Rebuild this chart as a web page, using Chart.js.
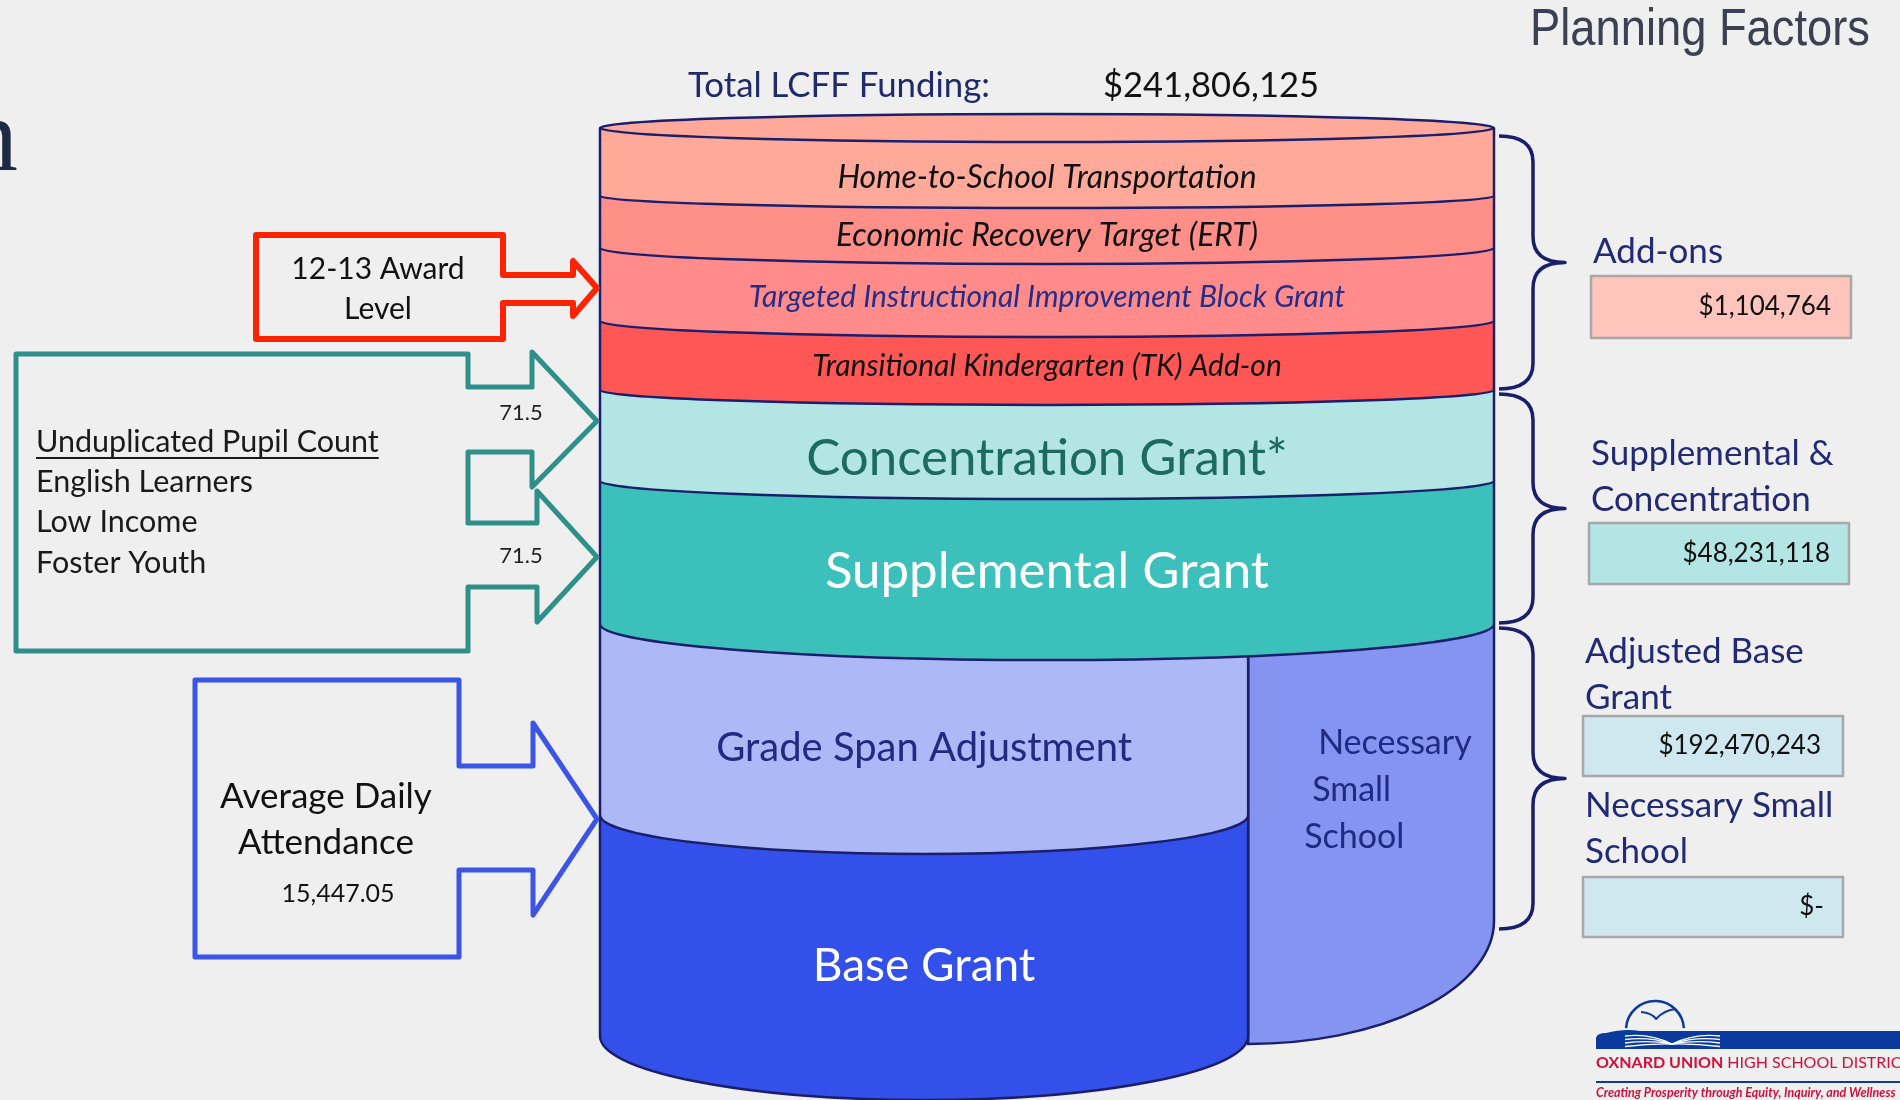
<!DOCTYPE html>
<html>
<head>
<meta charset="utf-8">
<title>LCFF Planning Factors</title>
<script src="https://cdn.jsdelivr.net/npm/chart.js@4.4.1/dist/chart.umd.min.js"></script>
<style>
  html, body { margin: 0; padding: 0; background: #efefef; overflow: hidden; }
  canvas { display: block; }
</style>
</head>
<body>
<canvas id="myChart" width="1900" height="1100"></canvas>
<script>
// layers of the funding "cylinder", bottom to top, with how thick each is drawn
var layerNames = ['Base Grant', 'Grade Span Adjustment', 'Supplemental Grant', 'Concentration Grant*',
  'Transitional Kindergarten (TK) Add-on', 'Targeted Instructional Improvement Block Grant',
  'Economic Recovery Target (ERT)', 'Home-to-School Transportation'];
var layerSizes = [221, 191, 143, 91, 69, 73, 52, 68];

// side column next to base + grade span
var smallSchoolName = 'Necessary Small School';
var smallSchoolRange = [115, 412];
var smallSchoolShare = 0.275;

// summary on the right
var groupNames = ['Add-ons', 'Supplemental & Concentration', 'Adjusted Base Grant', 'Necessary Small School'];
var groupAmounts = [1104764, 48231118, 192470243, 0];
var bracedRanges = [[646, 908], [412, 646], [115, 412]];

var totalFunding = 241806125;
var unduplicatedPct = [71.5, 71.5];
var averageDailyAttendance = 15447.05;
var pupilGroups = ['English Learners', 'Low Income', 'Foster Youth'];

var layerRanges = [];
var run = 0;
layerSizes.forEach(function (s) {
  layerRanges.push([run, run + s]);
  run += s;
});
var stackTop = run;

var layerStyle = [
  { color: '#3350ea', depth: 64, part: 'left', font: '46px Lato', text: '#ffffff', dy: 5 },
  { color: '#adb8f6', depth: 39, part: 'left', font: '40px Lato', text: '#1f2a80', dy: 2 },
  { color: '#3cc0bb', depth: 36, part: 'full', font: '51px Lato', text: '#ffffff', dy: 1 },
  { color: '#b2e5e3', depth: 18, part: 'full', font: '51px Lato', text: '#1d6a61', dy: 11 },
  { color: '#ff5656', depth: 15, part: 'full', font: 'italic 30px Lato', text: '#111111', dy: -1 },
  { color: '#ff8b8b', depth: 16, part: 'full', font: 'italic 30px Lato', text: '#262d87', dy: 1 },
  { color: '#ff8f88', depth: 16, part: 'full', font: 'italic 32px Lato', text: '#111111', dy: 4 },
  { color: '#ffa99b', depth: 12, part: 'full', font: 'italic 32px Lato', text: '#111111', dy: 6 }
];

var datasets = [{
  label: smallSchoolName, data: [smallSchoolRange], backgroundColor: '#8594f1',
  depth: 123, part: 'right', font: '34px Lato', text: '#1f2a80', dy: 0
}];
layerNames.forEach(function (name, i) {
  var st = layerStyle[i];
  datasets.push({
    label: name, data: [layerRanges[i]], backgroundColor: st.color,
    depth: st.depth, part: st.part, font: st.font, text: st.text, dy: st.dy
  });
});

function money(n) {
  return n ? '$' + n.toLocaleString('en-US') : '$-';
}

function say(c, s, x, y, font, color, align, maxW) {
  c.font = font;
  c.fillStyle = color;
  c.textAlign = align || 'left';
  c.textBaseline = 'middle';
  if (maxW) c.fillText(s, x, y, maxW);
  else c.fillText(s, x, y);
}

function shape(c, pts, color, width) {
  c.beginPath();
  c.moveTo(pts[0][0], pts[0][1]);
  for (var i = 1; i < pts.length; i++) c.lineTo(pts[i][0], pts[i][1]);
  c.closePath();
  c.lineJoin = 'round';
  c.lineWidth = width;
  c.strokeStyle = color;
  c.stroke();
}

var outline = '#1b1f6b';

// draws the bars as cylinder slices instead of flat rectangles
var cylinder = {
  id: 'cylinder',
  beforeDatasetsDraw: function (chart, args, opts) {
    var c = chart.ctx;
    var sets = chart.data.datasets;
    var geo = sets.map(function (ds, i) {
      var p = chart.getDatasetMeta(i).data[0].getProps(['x', 'y', 'base', 'width'], true);
      var left = p.x - p.width / 2, right = p.x + p.width / 2;
      if (ds.part === 'left') right = left + p.width * (1 - smallSchoolShare);
      if (ds.part === 'right') left = right - p.width * smallSchoolShare;
      return { left: left, right: right, cx: (left + right) / 2, rx: (right - left) / 2,
        ry: ds.depth, top: p.y, base: p.base };
    });

    c.save();
    c.lineWidth = 2.5;
    c.strokeStyle = outline;
    sets.forEach(function (ds, i) {
      var g = geo[i];
      c.fillStyle = ds.backgroundColor;
      c.beginPath();
      if (ds.part === 'right') {
        c.moveTo(g.left, g.top);
        c.lineTo(g.right, g.top);
        c.lineTo(g.right, g.base);
        c.ellipse(g.left, g.base, g.right - g.left, g.ry, 0, 0, Math.PI / 2, false);
        c.closePath();
        c.fill();
        c.beginPath();
        c.moveTo(g.right, g.top);
        c.lineTo(g.right, g.base);
        c.ellipse(g.left, g.base, g.right - g.left, g.ry, 0, 0, Math.PI / 2, false);
        c.lineTo(g.left, g.top);
        c.stroke();
      } else {
        c.moveTo(g.left, g.top);
        c.lineTo(g.left, g.base);
        c.ellipse(g.cx, g.base, g.rx, g.ry, 0, Math.PI, 0, true);
        c.lineTo(g.right, g.top);
        c.closePath();
        c.fill();
        c.beginPath();
        c.moveTo(g.left, g.top);
        c.lineTo(g.left, g.base);
        c.ellipse(g.cx, g.base, g.rx, g.ry, 0, Math.PI, 0, true);
        c.lineTo(g.right, g.top);
        c.stroke();
      }
    });

    // lid on the top layer
    var last = sets.length - 1, t = geo[last];
    c.beginPath();
    c.ellipse(t.cx, t.top, t.rx, opts.capDepth, 0, 0, Math.PI * 2);
    c.fillStyle = sets[last].backgroundColor;
    c.fill();
    c.stroke();

    // layer names
    sets.forEach(function (ds, i) {
      var g = geo[i];
      if (ds.part === 'right') {
        var words = ds.label.split(' ');
        var mid = g.top + (g.base - g.top) * 0.56;
        var indent = [14, 8, 0];
        words.forEach(function (w, k) {
          say(c, w, g.left + 56 + indent[k], mid + (k - 1) * 47, ds.font, ds.text, 'left');
        });
        return;
      }
      var frontTop = g.top + opts.capDepth;
      geo.forEach(function (h, j) {
        if (j !== i && Math.abs(h.base - g.top) < 1 && h.left <= g.cx && h.right >= g.cx) {
          var dx = (g.cx - h.cx) / h.rx;
          frontTop = g.top + h.ry * Math.sqrt(Math.max(0, 1 - dx * dx));
        }
      });
      var y = (frontTop + g.base + g.ry / 2) / 2 + ds.dy;
      say(c, ds.label, g.cx, y, ds.font, ds.text, 'center');
    });
    c.restore();
    return false;
  }
};

// everything around the cylinder: titles, input boxes, braces, totals, logo
var surround = {
  id: 'surround',
  beforeDraw: function (chart) {
    var c = chart.ctx;
    c.save();
    c.fillStyle = '#efefef';
    c.fillRect(0, 0, chart.width, chart.height);
    c.restore();
  },
  afterDraw: function (chart) {
    var c = chart.ctx;
    var y = chart.scales.y;
    var area = chart.chartArea;
    c.save();

    say(c, 'Planning Factors', 1870, 31, '52px "Liberation Sans"', '#3b4150', 'right', 340);
    c.font = '104px "Liberation Serif"';
    c.fillStyle = '#1c2b44';
    c.textAlign = 'right';
    c.textBaseline = 'alphabetic';
    c.fillText('n', 18, 170);

    say(c, 'Total LCFF Funding:', 688, 86, '35px Lato', '#1f2a6b', 'left', 302);
    say(c, money(totalFunding), 1103, 86, '35px Lato', '#111111', 'left', 216);

    // 12-13 award level box
    shape(c, [[503, 275], [503, 235], [256, 235], [256, 339], [503, 339], [503, 303], [573, 303],
      [573, 316], [597, 288], [573, 261], [573, 275]], '#ff2400', 6);
    say(c, '12-13 Award', 378, 269, '30px Lato', '#111111', 'center');
    say(c, 'Level', 378, 309, '30px Lato', '#111111', 'center');

    // unduplicated pupil count box
    shape(c, [[16, 354], [468, 354], [468, 387], [532, 387], [532, 352], [597, 421], [532, 487],
      [532, 452], [468, 452], [468, 523], [537, 523], [537, 491], [597, 557], [537, 622],
      [537, 587], [468, 587], [468, 651], [16, 651]], '#2e9088', 5);
    say(c, 'Unduplicated Pupil Count', 36, 442, '30.5px Lato', '#1a1a1a', 'left');
    c.font = '30.5px Lato';
    var uw = c.measureText('Unduplicated Pupil Count').width;
    c.fillStyle = '#1a1a1a';
    c.fillRect(36, 457, uw, 2);
    pupilGroups.forEach(function (g, k) {
      say(c, g, 36, 482 + k * 40.5, '30.5px Lato', '#1a1a1a', 'left');
    });
    say(c, String(unduplicatedPct[0]), 521, 413, '22px Lato', '#222222', 'center');
    say(c, String(unduplicatedPct[1]), 521, 556, '22px Lato', '#222222', 'center');

    // average daily attendance box
    shape(c, [[195, 680], [459, 680], [459, 766], [533, 766], [533, 723], [597, 819], [533, 915],
      [533, 870], [459, 870], [459, 957], [195, 957]], '#3a55e8', 5);
    say(c, 'Average Daily', 326, 797, '35px Lato', '#111111', 'center');
    say(c, 'Attendance', 326, 843, '35px Lato', '#111111', 'center');
    say(c, averageDailyAttendance.toLocaleString('en-US', { minimumFractionDigits: 2 }),
      338, 894, '25px Lato', '#111111', 'center');

    // braces tying layer groups to totals
    c.strokeStyle = outline;
    c.lineWidth = 3.5;
    var x0 = area.right + 5, x1 = area.right + 39, x2 = area.right + 71, r = 26;
    bracedRanges.forEach(function (rg, k) {
      var top = y.getPixelForValue(rg[1]) + (k === 0 ? 8 : 4);
      var bot = y.getPixelForValue(rg[0]) + (k === 2 ? 8 : -1);
      var tip = (top + bot) / 2;
      c.beginPath();
      c.moveTo(x0, top);
      c.quadraticCurveTo(x1, top, x1, top + r);
      c.lineTo(x1, tip - r);
      c.quadraticCurveTo(x1, tip, x2, tip);
      c.quadraticCurveTo(x1, tip, x1, tip + r);
      c.lineTo(x1, bot - r);
      c.quadraticCurveTo(x1, bot, x0, bot);
      c.stroke();
    });

    // totals panel
    var panel = [
      { lines: ['Add-ons'], ly: 252, box: [1591, 276, 260, 62], fill: '#ffc5bd', vx: 1831 },
      { lines: ['Supplemental &', 'Concentration'], ly: 454, box: [1589, 523, 260, 61], fill: '#b2e5e3', vx: 1830 },
      { lines: ['Adjusted Base', 'Grant'], ly: 652, box: [1583, 716, 260, 60], fill: '#cfe7ee', vx: 1821 },
      { lines: ['Necessary Small', 'School'], ly: 806, box: [1583, 877, 260, 60], fill: '#cfe7ee', vx: 1824 }
    ];
    panel.forEach(function (p, k) {
      p.lines.forEach(function (ln, j) {
        say(c, ln, p.box[0] + 2, p.ly + j * 46, '35px Lato', '#232a75', 'left');
      });
      c.fillStyle = p.fill;
      c.fillRect(p.box[0], p.box[1], p.box[2], p.box[3]);
      c.strokeStyle = '#a8a8a8';
      c.lineWidth = 2.5;
      c.strokeRect(p.box[0], p.box[1], p.box[2], p.box[3]);
      say(c, money(groupAmounts[k]), p.vx, p.box[1] + p.box[3] / 2, '26px Lato', '#111111', 'right');
    });

    // district logo
    var blue = '#0a3a9e';
    c.fillStyle = blue;
    c.beginPath();
    c.moveTo(1596, 1049);
    c.lineTo(1596, 1038);
    c.quadraticCurveTo(1597, 1033, 1606, 1033);
    c.quadraticCurveTo(1625, 1028, 1640, 1031);
    c.lineTo(1900, 1031);
    c.lineTo(1900, 1049);
    c.closePath();
    c.fill();
    c.strokeStyle = blue;
    c.lineWidth = 2.5;
    c.beginPath();
    c.arc(1655, 1030, 29, Math.PI * 1.02, Math.PI * 1.98);
    c.stroke();
    c.lineWidth = 2;
    c.beginPath();
    c.moveTo(1641, 1012);
    c.quadraticCurveTo(1652, 1013, 1656, 1019);
    c.quadraticCurveTo(1664, 1010, 1676, 1009);
    c.stroke();
    c.strokeStyle = '#ffffff';
    c.lineWidth = 1.3;
    for (var k = 0; k < 4; k++) {
      c.beginPath();
      c.moveTo(1625, 1036 + k * 3.5);
      c.quadraticCurveTo(1650, 1033 + k * 3.5, 1672, 1044);
      c.quadraticCurveTo(1695, 1033 + k * 3.5, 1720, 1036 + k * 3.5);
      c.stroke();
    }
    c.textBaseline = 'middle';
    c.textAlign = 'left';
    c.font = 'bold 16px Lato';
    c.fillStyle = '#d0103a';
    c.fillText('OXNARD UNION', 1596, 1063);
    var ow = c.measureText('OXNARD UNION').width;
    c.font = '16px Lato';
    c.fillText(' HIGH SCHOOL DISTRICT', 1596 + ow, 1063);
    c.fillStyle = blue;
    c.fillRect(1596, 1081, 304, 2);
    say(c, 'Creating Prosperity through Equity, Inquiry, and Wellness', 1596, 1093,
      'italic bold 12.5px Lato', '#d0103a', 'left');

    c.restore();
  }
};

var ctx = document.getElementById('myChart').getContext('2d');
var myChart = new Chart(ctx, {
  type: 'bar',
  data: {
    labels: ['LCFF'],
    datasets: datasets
  },
  options: {
    responsive: false,
    animation: false,
    devicePixelRatio: 1,
    layout: { padding: { left: 600, right: 406, top: 128, bottom: 64 } },
    datasets: { bar: { grouped: false, categoryPercentage: 1, barPercentage: 1 } },
    scales: {
      x: { display: false },
      y: { display: false, min: 0, max: stackTop }
    },
    plugins: {
      legend: { display: false },
      tooltip: { enabled: false },
      cylinder: { capDepth: 14 }
    }
  },
  plugins: [surround, cylinder]
});
</script>
</body>
</html>
